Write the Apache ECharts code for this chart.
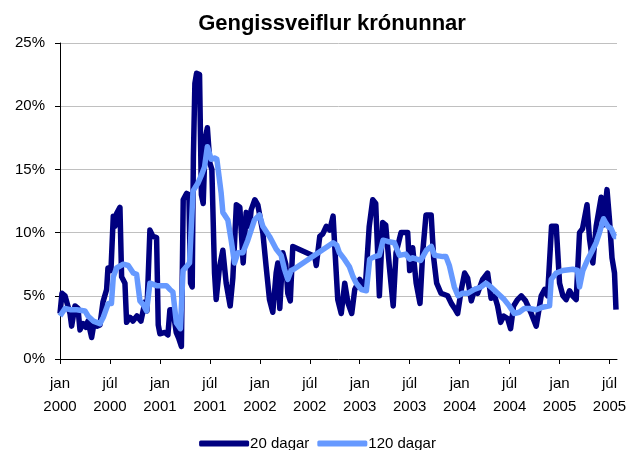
<!DOCTYPE html>
<html>
<head>
<meta charset="utf-8">
<script src="https://cdn.jsdelivr.net/npm/echarts@6/dist/echarts.min.js"></script>
<style>
  html, body { margin: 0; padding: 0; background: #fff; }
  #chart { width: 635px; height: 450px; }
</style>
</head>
<body>
<div id="chart"></div>
<script>
// x = mánuðir frá jan 2000
const TICK_LABELS = ['jan\n2000', 'júl\n2000', 'jan\n2001', 'júl\n2001', 'jan\n2002', 'júl\n2002',
  'jan\n2003', 'júl\n2003', 'jan\n2004', 'júl\n2004', 'jan\n2005', 'júl\n2005'];

const t20 = [0, 0.24, 0.6, 1.2, 1.4, 1.8, 2.16, 2.4, 2.76, 3.12, 3.36, 3.8, 4.08, 4.44, 4.8, 5.16, 5.6, 5.76,
  6.12, 6.4, 6.6, 6.8, 7.2, 7.4, 7.8, 8.0, 8.4, 8.76, 9.24, 9.72, 10.2, 10.44, 10.8, 11.16, 11.6, 11.8,
  12.0, 12.6, 12.96, 13.2, 13.56, 13.96, 14.28, 14.58, 14.8, 15.2, 15.48, 15.68, 15.88, 16.02, 16.2, 16.4,
  16.76, 16.98, 17.2, 17.46, 17.7, 18.0, 18.24, 18.56, 18.76, 19.16, 19.56, 19.96, 20.44, 20.76, 21.18,
  21.6, 22.0, 22.36, 22.76, 22.96, 23.4, 23.76, 24.36, 24.76, 25.16, 25.56, 25.96, 26.16, 26.4, 26.76,
  27.12, 27.36, 27.66, 27.96, 28.2, 30.6, 30.78, 31.2, 31.56, 31.98, 32.4, 32.8, 33.0, 33.36, 33.78, 34.2,
  34.6, 35.04, 35.4, 36.0, 36.48, 36.72, 37.14, 37.56, 37.92, 38.36, 38.76, 39.12, 39.56, 40.02, 40.36,
  40.96, 41.76, 42.0, 42.36, 42.78, 43.24, 43.56, 43.96, 44.58, 44.88, 45.24, 45.76, 46.56, 47.0, 47.4,
  47.76, 48.2, 48.6, 48.96, 49.4, 49.8, 50.16, 50.76, 51.36, 51.78, 52.2, 52.56, 52.92, 53.28, 53.76,
  54.12, 54.48, 54.96, 55.4, 55.92, 56.16, 56.6, 57.2, 57.8, 58.2, 58.56, 59.04, 59.6, 60.0, 60.4, 60.8,
  61.2, 61.56, 62.0, 62.4, 62.76, 63.3, 63.6, 64.0, 64.4, 65.0, 65.28, 65.7, 66.0, 66.3, 66.6, 66.78];
const v20 = [3.6, 5.2, 5.0, 3.6, 2.6, 4.2, 4.0, 2.3, 2.8, 2.5, 3.0, 1.7, 2.8, 2.6, 2.7, 4.5, 5.5, 7.2,
  7.0, 11.3, 10.5, 11.5, 12.0, 6.5, 6.0, 2.9, 3.3, 3.0, 3.4, 3.0, 4.5, 3.8, 10.2, 9.7, 9.6, 2.7,
  2.0, 2.1, 1.9, 3.9, 3.9, 2.1, 1.6, 1.0, 12.6, 13.1, 13.0, 6.0, 5.7, 16.0, 21.8, 22.6,
  22.5, 13.0, 12.3, 17.5, 18.3, 15.5, 15.0, 6.8, 4.7, 7.3, 8.6, 6.0, 4.2, 6.4, 12.2,
  12.0, 7.6, 11.6, 10.5, 11.8, 12.6, 12.2, 10.0, 7.3, 4.7, 3.7, 6.8, 7.6, 4.0, 8.4,
  7.5, 5.2, 4.6, 8.9, 9.0, 8.1, 7.4, 9.7, 9.9, 10.5, 10.2, 11.3, 8.9, 4.7, 3.6, 6.0,
  4.4, 3.6, 5.5, 6.3, 5.8, 6.2, 10.5, 12.6, 12.3, 5.0, 10.8, 10.6, 7.3, 4.2, 8.4,
  10.0, 10.0, 7.0, 8.8, 6.0, 4.4, 8.4, 11.4, 11.4, 8.0, 6.0, 5.2, 5.0, 4.4, 4.0,
  3.6, 5.5, 6.8, 6.4, 4.6, 5.5, 5.2, 6.3, 6.8, 4.8, 5.0, 4.2, 2.9, 3.4, 3.2,
  2.4, 4.2, 4.7, 5.0, 4.6, 4.7, 3.6, 2.6, 5.0, 5.5, 5.0, 10.5, 10.5, 6.0, 5.0, 4.7,
  5.4, 5.0, 4.7, 10.0, 10.3, 12.2, 9.5, 7.6, 10.5, 12.8, 10.6, 13.4, 11.0, 8.0, 6.8, 3.9];

const t120 = [0, 0.6, 1.2, 2.0, 3.0, 3.36, 4.0, 4.8, 5.2, 5.8, 6.18, 6.4, 6.8, 7.6, 8.2, 8.8, 9.2, 9.6,
  10.0, 10.4, 10.8, 11.6, 12.78, 13.2, 13.56, 13.98, 14.46, 14.78, 15.56, 15.98, 16.56, 16.96, 17.36,
  17.7, 17.94, 18.16, 18.56, 18.84, 19.36, 19.56, 20.16, 20.56, 20.96, 21.36, 21.96, 22.56, 23.36,
  23.96, 24.36, 25.16, 25.96, 26.56, 26.96, 27.36, 27.76, 28.08, 32.8, 33.24, 33.56, 34.16, 34.76,
  35.2, 35.58, 36.2, 36.8, 37.2, 37.8, 38.36, 38.8, 39.36, 40.16, 40.76, 41.52, 42.0, 42.36, 43.32,
  44.0, 44.6, 45.0, 46.0, 46.36, 46.76, 47.36, 47.8, 48.36, 48.96, 49.76, 50.56, 51.16, 51.76, 52.56,
  53.36, 53.96, 54.56, 55.16, 55.76, 56.4, 57.2, 57.96, 58.8, 59.0, 59.6, 60.4, 61.6, 62.16, 62.4,
  62.8, 63.4, 63.8, 64.4, 64.8, 65.28, 65.52, 65.8, 66.2, 66.6, 66.8];
const v120 = [3.4, 4.0, 3.9, 3.9, 3.8, 3.4, 3.0, 2.8, 3.3, 4.4, 4.4, 6.5, 7.2, 7.5, 7.4, 6.8, 6.7, 4.6,
  4.3, 3.8, 6.0, 5.8, 5.8, 5.5, 5.3, 2.85, 2.4, 7.0, 7.6, 13.3, 13.9, 14.5, 15.2,
  16.8, 16.3, 15.8, 15.9, 15.8, 13.1, 11.6, 11.0, 9.4, 7.6, 8.4, 8.4, 9.4, 11.0,
  11.4, 10.5, 9.7, 8.7, 8.2, 7.1, 6.3, 7.0, 7.1, 9.2, 9.0, 8.4, 7.9, 7.3,
  6.5, 6.0, 5.5, 5.4, 7.9, 8.1, 8.2, 9.4, 9.3, 9.2, 8.2, 8.3, 7.9, 8.0, 7.8,
  8.6, 8.9, 8.2, 8.1, 8.1, 7.4, 5.7, 5.0, 5.2, 5.2, 5.5, 5.7, 6.0, 5.7, 5.2,
  4.7, 4.2, 3.6, 3.7, 4.0, 4.0, 3.9, 4.1, 4.2, 6.3, 6.8, 7.0, 7.1, 7.0, 5.7,
  7.0, 7.9, 8.4, 9.2, 10.0, 11.1, 10.8, 10.5, 10.3, 9.7, 9.7];

const SERIES_NAMES = ['20 dagar', '120 dagar'];
const DARK = '#000080';
const LIGHT = '#6699ff';
const FONT = 'Liberation Sans, Arial, sans-serif';

function pairs(t, v) {
  return t.map(function (x, i) { return [x, v[i]]; });
}

const tickVals = TICK_LABELS.map(function (_, i) { return i * 6; });

const chart = echarts.init(document.getElementById('chart'));
chart.setOption({
  animation: false,
  backgroundColor: '#fff',
  textStyle: { fontFamily: FONT, color: '#000' },
  title: {
    text: 'Gengissveiflur krónunnar',
    left: 327,
    textAlign: 'center',
    top: 8,
    textStyle: { fontFamily: FONT, fontSize: 22, fontWeight: 'bold', color: '#000' }
  },
  legend: {
    data: SERIES_NAMES,
    left: 'center',
    top: 431,
    icon: 'roundRect',
    itemWidth: 50,
    itemHeight: 6,
    itemGap: 8,
    textStyle: { fontFamily: FONT, fontSize: 15, color: '#000', padding: [0, 0, 0, -4] }
  },
  grid: { left: 60, right: 18, top: 43, bottom: 91 },
  xAxis: {
    type: 'value',
    min: 0,
    max: 66.9,
    interval: 6,
    axisLine: { lineStyle: { color: '#000', width: 1 } },
    axisTick: { show: true, length: 5, customValues: tickVals, lineStyle: { color: '#000' } },
    axisLabel: {
      customValues: tickVals,
      margin: 13,
      fontSize: 15,
      lineHeight: 23,
      color: '#000',
      fontFamily: FONT,
      formatter: function (v) { return TICK_LABELS[Math.round(v / 6)] || ''; }
    },
    splitLine: { show: false }
  },
  yAxis: {
    type: 'value',
    min: 0,
    max: 25,
    interval: 5,
    axisLine: { show: true, lineStyle: { color: '#000', width: 1 } },
    axisTick: { show: true, length: 5, lineStyle: { color: '#000' } },
    axisLabel: { formatter: '{value}%', fontSize: 15, color: '#000', fontFamily: FONT, margin: 15 },
    splitLine: { lineStyle: { color: '#c0c0c0', width: 1 } }
  },
  series: [
    {
      name: SERIES_NAMES[0],
      type: 'line',
      showSymbol: false,
      data: pairs(t20, v20),
      lineStyle: { color: DARK, width: 5.5, join: 'round' },
      itemStyle: { color: DARK }
    },
    {
      name: SERIES_NAMES[1],
      type: 'line',
      showSymbol: false,
      data: pairs(t120, v120),
      lineStyle: { color: LIGHT, width: 5.5, join: 'round' },
      itemStyle: { color: LIGHT }
    }
  ]
});
</script>
</body>
</html>
